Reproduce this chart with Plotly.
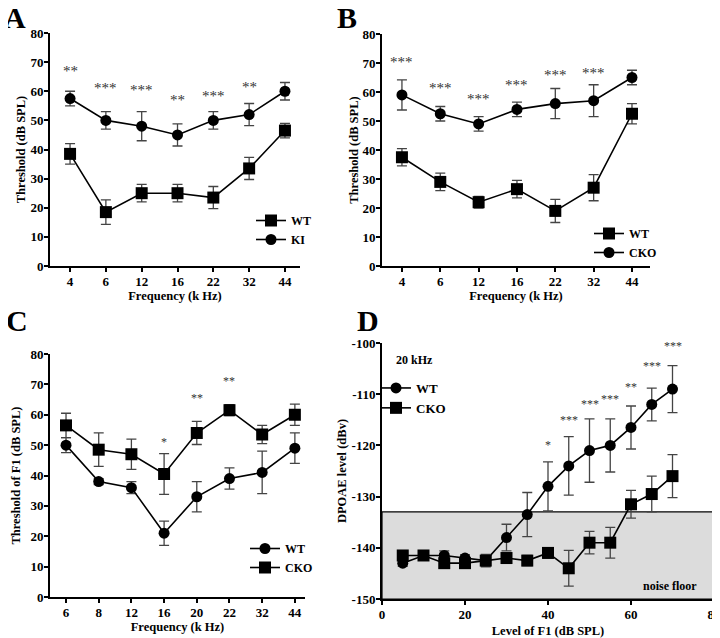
import plotly.graph_objects as go

# ---------------- data ----------------
a_cats = ["4", "6", "12", "16", "22", "32", "44"]
a_wt = [38.5, 18.5, 25, 25, 23.5, 33.5, 46.5]
a_wt_err = [3.5, 4.2, 3, 3, 3.8, 3.8, 2.5]
a_ki = [57.5, 50, 48, 45, 50, 52, 60]
a_ki_err = [2.5, 3, 5, 3.8, 3, 3.8, 3]
a_stars = ["**", "***", "***", "**", "***", "**", ""]
a_star_y = [67, 61, 60.5, 57, 58.5, 61.5, 0]

b_cats = ["4", "6", "12", "16", "22", "32", "44"]
b_wt = [37.5, 29, 22, 26.5, 19, 27, 52.5]
b_wt_err = [3, 3, 2, 3, 4, 4.5, 3.5]
b_cko = [59, 52.5, 49, 54, 56, 57, 65]
b_cko_err = [5.2, 2.5, 2.5, 2.5, 5.2, 5.5, 2.5]
b_stars = ["***", "***", "***", "***", "***", "***", ""]
b_star_y = [70.5, 61.5, 57.5, 62.5, 66, 66.5, 0]

c_cats = ["6", "8", "12", "16", "20", "22", "32", "44"]
c_wt = [50, 38, 36, 21, 33, 39, 41, 49]
c_wt_err = [2.5, 1, 2, 4, 5, 3.5, 7, 5]
c_cko = [56.5, 48.5, 47, 40.5, 54, 61.5, 53.5, 60]
c_cko_err = [4, 5.5, 5, 6.7, 3.8, 1.8, 3, 3.5]
c_stars = ["", "", "", "*", "**", "**", "", ""]
c_star_y = [0, 0, 0, 51, 65.5, 71, 0, 0]

d_level = [5, 10, 15, 20, 25, 30, 35, 40, 45, 50, 55, 60, 65, 70]
d_wt = [-143, -141.5, -141.5, -142, -142.5, -138, -133.5, -128, -124, -121, -120, -116.5, -112, -109]
d_wt_err = [0.6, 0.6, 0.9, 0.6, 0.8, 2.6, 4.3, 4.8, 5.7, 6.2, 5.2, 4.2, 3.2, 4.6]
d_cko = [-141.5, -141.5, -143, -143, -142.5, -142, -142.5, -141, -144, -139, -139, -131.5, -129.5, -126]
d_cko_err = [0.8, 0.6, 0.8, 0.8, 1.2, 1.0, 1.0, 1.0, 3.5, 2.2, 3, 2.7, 3.5, 4.2]
d_stars = ["", "", "", "", "", "", "", "*", "***", "***", "***", "**", "***", "***"]
d_star_y = [0, 0, 0, 0, 0, 0, 0, -120, -115, -112, -111, -108.5, -104.5, -100.5]
d_yticks = [-100, -110, -120, -130, -140, -150]
d_yticktext = ["-100", "-110", "-120", "-130", "-140", "-150"]
noise_floor = -133

FONT = "Liberation Serif"
OFF = 8  # page body margin offset
fig = go.Figure()

def add_series(x, y, err, name, symbol, size, xa, ya, legend):
    fig.add_trace(go.Scatter(
        x=x, y=y, name=name, mode="lines+markers",
        xaxis=xa, yaxis=ya, legend=legend,
        line=dict(color="black", width=1.6),
        marker=dict(symbol=symbol, size=size, color="black"),
        error_y=dict(type="data", array=err, color="#444", thickness=1.3, width=5),
    ))

ia = list(range(len(a_cats)))
add_series(ia, a_wt, a_wt_err, "WT", "square", 12, "x", "y", "legend")
add_series(ia, a_ki, a_ki_err, "KI", "circle", 11, "x", "y", "legend")
ib = list(range(len(b_cats)))
add_series(ib, b_wt, b_wt_err, "WT", "square", 12, "x2", "y2", "legend2")
add_series(ib, b_cko, b_cko_err, "CKO", "circle", 11, "x2", "y2", "legend2")
ic = list(range(len(c_cats)))
add_series(ic, c_wt, c_wt_err, "WT", "circle", 11, "x3", "y3", "legend3")
add_series(ic, c_cko, c_cko_err, "CKO", "square", 12, "x3", "y3", "legend3")
add_series(d_level, d_wt, d_wt_err, "WT", "circle", 11, "x4", "y4", "legend4")
add_series(d_level, d_cko, d_cko_err, "CKO", "square", 12, "x4", "y4", "legend4")

annotations = []
def stars(xs, texts, ys, xr, yr, size):
    for xv, t, yv in zip(xs, texts, ys):
        if t:
            annotations.append(dict(x=xv, y=yv, xref=xr, yref=yr, text=t, showarrow=False,
                                    font=dict(family=FONT, size=size, color="#333")))

stars(ia, a_stars, a_star_y, "x", "y", 15)
stars(ib, b_stars, b_star_y, "x2", "y2", 15)
stars(ic, c_stars, c_star_y, "x3", "y3", 12)
stars(d_level, d_stars, d_star_y, "x4", "y4", 12)

W, H = 720, 638

def fx(p):
    return (p - OFF) / W

def fy(p):
    return 1 - (p - OFF) / H

for txt, xp, yp in [("A", 15, 18), ("B", 347, 17), ("C", 17, 320), ("D", 368, 320)]:
    annotations.append(dict(x=fx(xp), y=fy(yp), xref="paper", yref="paper", text=txt,
                            xanchor="center", yanchor="middle", borderpad=0,
                            showarrow=False, font=dict(family=FONT, size=30, color="black", weight="bold")))

annotations.append(dict(x=3, y=-103.3, xref="x4", yref="y4", text="20 kHz", showarrow=False,
                        xanchor="left", font=dict(family=FONT, size=12, color="black", weight="bold")))
annotations.append(dict(x=76.5, y=-147.5, xref="x4", yref="y4", text="noise floor", showarrow=False,
                        xanchor="right", font=dict(family=FONT, size=12, color="black", weight="bold")))

shapes = [dict(type="rect", xref="x4", yref="y4", x0=0, x1=80, y0=-150, y1=noise_floor,
               fillcolor="#dcdcdc", line=dict(color="black", width=1.2), layer="below")]

tickfont = dict(family=FONT, size=13, color="black", weight="bold")
titlefont = dict(family=FONT, size=12.5, color="black", weight="bold")

def ax(**kw):
    base = dict(showline=True, linecolor="black", linewidth=2, ticks="outside", ticklen=4,
                tickwidth=1.5, tickcolor="black", showgrid=False, zeroline=False,
                tickfont=tickfont, title_font=titlefont, ticklabelstandoff=-2,
                automargin=False)
    base.update(kw)
    return base

def px_x(a, b):
    return [fx(a), fx(b)]

def px_y(top, bot):
    return [fy(bot), fy(top)]

def leg(xp, yp, size):
    return dict(x=fx(xp), y=fy(yp), xanchor="left", yanchor="top", bgcolor="rgba(0,0,0,0)",
                font=dict(family=FONT, size=size, weight="bold"), itemwidth=30)

fig.update_layout(
    width=W, height=H, margin=dict(l=0, r=0, t=0, b=0),
    paper_bgcolor="white", plot_bgcolor="white",
    font=dict(family=FONT, color="black"),
    xaxis=ax(domain=px_x(50, 300), range=[-0.56, 6.42], tickvals=ia, ticktext=a_cats,
             title=dict(text="Frequency (k Hz)", standoff=4), anchor="y"),
    yaxis=ax(domain=px_y(33, 266), range=[0, 80], dtick=10,
             title=dict(text="Threshold (dB SPL)", standoff=2), anchor="x"),
    xaxis2=ax(domain=px_x(382, 650), range=[-0.52, 6.47], tickvals=ib, ticktext=b_cats,
              title=dict(text="Frequency (k Hz)", standoff=4), anchor="y2"),
    yaxis2=ax(domain=px_y(34, 266), range=[0, 80], dtick=10,
              title=dict(text="Threshold (dB SPL)", standoff=1), anchor="x2"),
    xaxis3=ax(domain=px_x(50, 305), range=[-0.49, 7.31], tickvals=ic, ticktext=c_cats,
              title=dict(text="Frequency (k Hz)", standoff=4), anchor="y3"),
    yaxis3=ax(domain=px_y(354, 597), range=[0, 80], dtick=10,
              title=dict(text="Threshold of F1 (dB SPL)", standoff=7), anchor="x3"),
    xaxis4=ax(domain=px_x(382, 714), range=[0, 80], dtick=20,
              title=dict(text="Level of F1 (dB SPL)", standoff=6), anchor="y4"),
    yaxis4=ax(domain=px_y(343, 599), range=[-150, -100], tickvals=d_yticks, ticktext=d_yticktext,
              title=dict(text="DPOAE level (dBv)", standoff=2), anchor="x4"),
    legend=leg(251, 206, 12),
    legend2=leg(589, 219, 12),
    legend3=leg(245, 534, 12),
    legend4=leg(376, 373, 13),
    annotations=annotations,
    shapes=shapes,
    showlegend=True,
)

fig.write_html("out.html")
